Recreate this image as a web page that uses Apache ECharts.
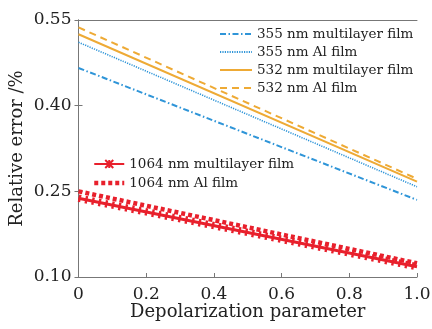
<!DOCTYPE html>
<html>
<head>
<meta charset="utf-8">
<script src="https://cdn.jsdelivr.net/npm/echarts@6/dist/echarts.min.js"></script>
<style>
  html, body {margin: 0; padding: 0; background: #fff;}
  #chart {width: 432px; height: 329px;}
</style>
</head>
<body>
<div id="chart"></div>
<script>
// depolarization parameter (x) and relative error (y)
const xVals = [0, 1.0];
const multi355 = [0.466, 0.235];
const al355 = [0.511, 0.258];
const multi532 = [0.525, 0.267];
const al532 = [0.537, 0.272];
const multi1064 = [0.238, 0.118];
const al1064 = [0.250, 0.124];
const yTicks = [0.10, 0.25, 0.40, 0.55];

const BLUE = '#2f95d8';
const ORANGE = '#eeaa35';
const RED = '#e8202c';
const FONT = 'DejaVu Serif';

const pts = ys => xVals.map((x, i) => [x, ys[i]]);
const crossPath = 'path://M0,0L10,10M10,0L0,10M5,0L5,10';
const noMark = {opacity: 0};

const chart = echarts.init(document.getElementById('chart'));
chart.setOption({
  animation: false,
  textStyle: {fontFamily: FONT, color: '#222'},
  grid: {left: 78.5, right: 15, top: 20, bottom: 52, outerBoundsMode: 'none'},
  legend: [{
    orient: 'vertical',
    left: 219, top: 27,
    padding: 0,
    itemWidth: 32, itemHeight: 10, itemGap: 4,
    textStyle: {fontFamily: FONT, fontSize: 13.5, color: '#222'},
    data: [
      {name: '355 nm multilayer film', itemStyle: noMark},
      {name: '355 nm Al film', itemStyle: noMark},
      {name: '532 nm multilayer film', itemStyle: noMark},
      {name: '532 nm Al film', itemStyle: noMark}
    ]
  }, {
    orient: 'vertical',
    left: 92, top: 157,
    padding: 0,
    itemWidth: 30, itemHeight: 10, itemGap: 5,
    textStyle: {fontFamily: FONT, fontSize: 13.5, color: '#222'},
    data: [
      {name: '1064 nm multilayer film'},
      {name: '1064 nm Al film', itemStyle: noMark, lineStyle: {width: 4.5}}
    ]
  }],
  xAxis: [{
    type: 'value',
    min: 0, max: 1, interval: 0.2,
    name: 'Depolarization parameter',
    nameLocation: 'middle', nameGap: 26, nameMoveOverlap: false,
    nameTextStyle: {fontFamily: FONT, fontSize: 18, color: '#222'},
    axisLine: {lineStyle: {color: '#777', width: 1}},
    axisTick: {inside: true, length: 4, lineStyle: {color: '#777'}},
    axisLabel: {
      fontFamily: FONT, fontSize: 17, color: '#222', margin: 9,
      formatter: v => v === 0 ? '0' : v.toFixed(1)
    },
    splitLine: {show: false}
  }, {
    type: 'value', position: 'top',
    min: 0, max: 1, interval: 0.2,
    axisLine: {show: true, lineStyle: {color: '#777', width: 1}},
    axisTick: {show: false},
    axisLabel: {show: false},
    splitLine: {show: false}
  }],
  yAxis: [{
    type: 'value',
    min: yTicks[0], max: yTicks[yTicks.length - 1], interval: 0.15,
    name: 'Relative error /%',
    nameLocation: 'middle', nameGap: 52, nameMoveOverlap: false,
    nameTextStyle: {fontFamily: FONT, fontSize: 18, color: '#222'},
    axisLine: {show: true, lineStyle: {color: '#777', width: 1}},
    axisTick: {inside: true, length: 4, lineStyle: {color: '#777'}},
    axisLabel: {
      fontFamily: FONT, fontSize: 17, color: '#222', margin: 7,
      formatter: v => v.toFixed(2)
    },
    splitLine: {show: false}
  }, {
    type: 'value', position: 'right',
    min: yTicks[0], max: yTicks[yTicks.length - 1], interval: 0.15,
    axisLine: {show: true, lineStyle: {color: '#777', width: 1}},
    axisTick: {show: true, inside: true, length: 4, lineStyle: {color: '#777'}},
    axisLabel: {show: false},
    splitLine: {show: false}
  }],
  series: [{
    name: '355 nm multilayer film', type: 'line', symbol: 'none',
    data: pts(multi355),
    lineStyle: {color: BLUE, width: 2, type: [6, 2.5, 1.5, 2.5]},
    itemStyle: {color: BLUE}
  }, {
    name: '355 nm Al film', type: 'line', symbol: 'none',
    data: pts(al355),
    lineStyle: {color: BLUE, width: 1.6, type: [1.2, 1.2]},
    itemStyle: {color: BLUE}
  }, {
    name: '532 nm multilayer film', type: 'line', symbol: 'none',
    data: pts(multi532),
    lineStyle: {color: ORANGE, width: 2},
    itemStyle: {color: ORANGE}
  }, {
    name: '532 nm Al film', type: 'line', symbol: 'none',
    data: pts(al532),
    lineStyle: {color: ORANGE, width: 2, type: [7, 5]},
    itemStyle: {color: ORANGE}
  }, {
    name: '1064 nm Al film', type: 'line', symbol: 'none',
    data: pts(al1064),
    lineStyle: {color: RED, width: 4.5, type: [4, 3]},
    itemStyle: {color: RED}
  }, {
    name: '1064 nm multilayer film', type: 'line',
    symbol: crossPath, symbolSize: 7, showSymbol: false,
    data: pts(multi1064),
    lineStyle: {color: RED, width: 3},
    itemStyle: {color: RED, borderColor: RED, borderWidth: 1.5}
  }, {
    // the dense cross markers along the 1064 nm multilayer curve
    name: '1064 multilayer markers', type: 'line', symbol: 'none',
    data: pts(multi1064),
    lineStyle: {color: RED, width: 7.5, type: [2.4, 4.4]},
    itemStyle: {color: RED}
  }]
});
</script>
</body>
</html>
